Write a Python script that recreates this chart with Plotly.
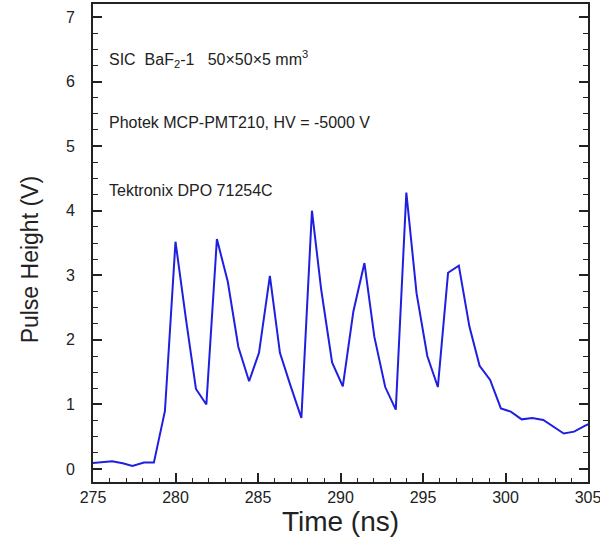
import plotly.graph_objects as go

time_ns = [274.88, 275.52, 276.16, 276.80, 277.39, 278.09, 278.69, 279.36, 280.00, 280.64,
           281.24, 281.87, 282.51, 283.17, 283.81, 284.46, 285.06, 285.72, 286.33, 286.96,
           287.63, 288.27, 288.83, 289.49, 290.14, 290.78, 291.45, 292.05, 292.71, 293.35,
           293.99, 294.61, 295.26, 295.90, 296.52, 297.17, 297.81, 298.43, 299.07, 299.72,
           300.32, 300.98, 301.63, 302.29, 302.89, 303.53, 304.16, 304.80, 305.44]
pulse_v = [0.09, 0.10, 0.12, 0.09, 0.05, 0.10, 0.10, 0.90, 3.52, 2.31,
           1.24, 1.00, 3.56, 2.90, 1.89, 1.36, 1.80, 2.99, 1.80, 1.30,
           0.79, 4.00, 2.78, 1.65, 1.28, 2.44, 3.19, 2.05, 1.27, 0.92,
           4.28, 2.72, 1.75, 1.27, 3.04, 3.15, 2.21, 1.60, 1.38, 0.94,
           0.89, 0.77, 0.79, 0.76, 0.66, 0.55, 0.58, 0.67, 0.74]

x_ticks = [275, 280, 285, 290, 295, 300, 305]
y_ticks = [0, 1, 2, 3, 4, 5, 6, 7]

notes = ["SIC  BaF<sub>2</sub>-1   50×50×5 mm<sup>3</sup>",
         "Photek MCP-PMT210, HV = -5000 V",
         "Tektronix DPO 71254C"]
note_y = [6.35, 5.36, 4.31]

x_title = "Time (ns)"
y_title = "Pulse Height (V)"

fig = go.Figure()
fig.add_trace(go.Scatter(x=time_ns, y=pulse_v, mode="lines",
                         line=dict(color="#1f1fe0", width=2), showlegend=False,
                         cliponaxis=True))

for t, yy in zip(notes, note_y):
    fig.add_annotation(x=275.85, y=yy, xref="x", yref="y", text=t, showarrow=False,
                       xanchor="left", yanchor="middle",
                       font=dict(family="Liberation Sans, Arial", size=16, color="#222"))

# y-axis title placed as rotated annotation
fig.add_annotation(x=-0.128, y=0.465, xref="paper", yref="paper", text=y_title,
                   showarrow=False, textangle=-90, xanchor="center", yanchor="middle",
                   font=dict(family="Liberation Sans, Arial", size=23, color="#222"))

fig.update_layout(
    width=600, height=540,
    margin=dict(l=93, r=12, t=4, b=58, autoexpand=False),
    paper_bgcolor="white", plot_bgcolor="white",
    font=dict(family="Liberation Sans, Arial", color="#222"),
    yaxis2=dict(overlaying="y", side="right", matches="y", range=[-0.2, 7.2],
                tickvals=y_ticks, showticklabels=False, automargin=False,
                ticks="inside", ticklen=9, tickwidth=1.5, tickcolor="#222",
                showline=True, linewidth=2, linecolor="#222",
                showgrid=False, zeroline=False,
                minor=dict(dtick=0.25, tick0=0, ticks="inside", ticklen=5,
                           tickcolor="#222", tickwidth=1.2, showgrid=False)),
)
fig.update_xaxes(range=[275, 305], tickvals=x_ticks, ticktext=[str(v) for v in x_ticks],
                 ticks="inside", ticklen=9, tickwidth=1.5, tickcolor="#222",
                 showline=True, linewidth=2, linecolor="#222", mirror=True,
                 showgrid=False, zeroline=False, ticklabeloverflow="allow", automargin=False,
                 minor=dict(dtick=1, ticks="inside", ticklen=4, tickcolor="#222", tickwidth=1.2, showgrid=False),
                 tickfont=dict(size=16),
                 title=dict(text=x_title, font=dict(size=28), standoff=6))
fig.layout.yaxis.update(range=[-0.2, 7.2], tickvals=y_ticks, ticktext=[str(v) for v in y_ticks],
                        ticks="inside", ticklen=9, tickwidth=1.5, tickcolor="#222",
                        showline=True, linewidth=2, linecolor="#222", mirror=False,
                        showgrid=False, zeroline=False, ticklabelstandoff=13, automargin=False,
                        minor=dict(dtick=0.25, tick0=0, ticks="inside", ticklen=5,
                                   tickcolor="#222", tickwidth=1.2, showgrid=False),
                        tickfont=dict(size=16))
# invisible helper trace so the right axis is drawn
fig.add_trace(go.Scatter(x=[time_ns[0]], y=[pulse_v[0]], yaxis="y2", mode="lines",
                         line=dict(width=0), showlegend=False, hoverinfo="skip"))

fig.write_html("out.html", config={"displayModeBar": False},
               post_script="document.body.style.margin='0';document.body.style.padding='0';"
                           "document.body.style.overflow='hidden';document.documentElement.style.overflow='hidden';")
